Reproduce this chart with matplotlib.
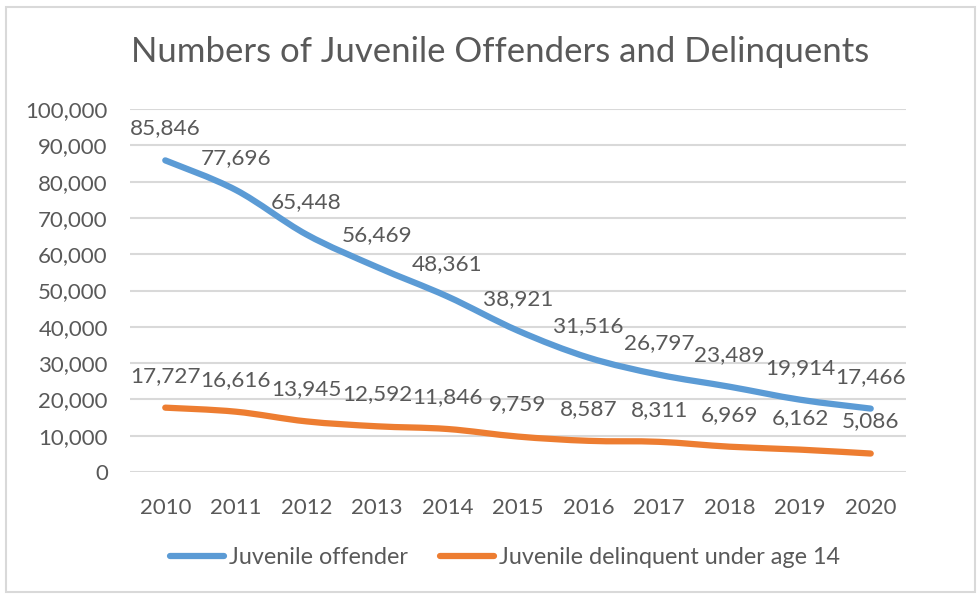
import matplotlib.pyplot as plt
from matplotlib.path import Path
from matplotlib.patches import PathPatch, Rectangle
from matplotlib.lines import Line2D
from matplotlib.ticker import FuncFormatter

years = ['2010', '2011', '2012', '2013', '2014', '2015', '2016', '2017', '2018', '2019', '2020']
offender = [85846, 77696, 65448, 56469, 48361, 38921, 31516, 26797, 23489, 19914, 17466]
delinquent = [17727, 16616, 13945, 12592, 11846, 9759, 8587, 8311, 6969, 6162, 5086]
series_names = ['Juvenile offender', 'Juvenile delinquent under age 14']

BLUE = '#5B9BD5'
ORANGE = '#ED7D31'
TXT = '#595959'
GRID = '#D9D9D9'

plt.rcParams['font.family'] = ['Lato', 'DejaVu Sans']


def smooth_path(xs, ys):
    # excel-like smoothed line: catmull-rom as cubic bezier segments
    pts = list(zip(xs, ys))
    verts = [pts[0]]
    codes = [Path.MOVETO]
    n = len(pts)
    for i in range(n - 1):
        p0 = pts[max(i - 1, 0)]
        p1 = pts[i]
        p2 = pts[i + 1]
        p3 = pts[min(i + 2, n - 1)]
        c1 = (p1[0] + (p2[0] - p0[0]) / 6, p1[1] + (p2[1] - p0[1]) / 6)
        c2 = (p2[0] - (p3[0] - p1[0]) / 6, p2[1] - (p3[1] - p1[1]) / 6)
        verts += [c1, c2, p2]
        codes += [Path.CURVE4] * 3
    return Path(verts, codes)


fig = plt.figure(figsize=(9.79, 5.96), dpi=100)
fig.patches.append(Rectangle((6 / 979, 4 / 596), 969 / 979, 585 / 596, transform=fig.transFigure,
                             fill=False, edgecolor=GRID, linewidth=1.5))
ax = fig.add_axes([130 / 979, 1 - 472 / 596, 776 / 979, 363 / 596])

x = list(range(len(years)))
for vals, col in [(offender, BLUE), (delinquent, ORANGE)]:
    ax.add_patch(PathPatch(smooth_path(x, vals), fill=False, edgecolor=col, linewidth=4.5,
                           capstyle='round', joinstyle='round', zorder=3))
    for xi, v in zip(x, vals):
        ax.annotate(f'{v:,}', (xi, v), xytext=(0, 32), textcoords='offset pixels',
                    ha='center', va='center', fontsize=16.2, color=TXT, zorder=4)

ax.set_xlim(-0.5, len(years) - 0.5)
ax.set_ylim(0, 100000)
ax.set_xticks(x)
ax.set_xticklabels(years)
ax.set_yticks(range(0, 100001, 10000))
ax.yaxis.set_major_formatter(FuncFormatter(lambda v, p: f'{int(v):,}'))
ax.grid(axis='y', color=GRID, linewidth=1.5)
ax.set_axisbelow(True)
for s in ax.spines.values():
    s.set_visible(False)
ax.tick_params(length=0, labelsize=16, labelcolor=TXT)
ax.tick_params(axis='x', pad=19)
ax.tick_params(axis='y', pad=16)

fig.text(500 / 979, 1 - 52 / 596, 'Numbers of Juvenile Offenders and Delinquents',
         ha='center', va='center', fontsize=25, color=TXT)

handles = [Line2D([], [], color=BLUE, linewidth=4.5, solid_capstyle='round'),
           Line2D([], [], color=ORANGE, linewidth=4.5, solid_capstyle='round')]
fig.legend(handles, series_names, loc='center', bbox_to_anchor=(505 / 979, 1 - 558 / 596),
           ncol=2, frameon=False, fontsize=16.8, labelcolor=TXT, handlelength=2.3,
           handletextpad=0.2, columnspacing=1.4)

fig.savefig('out.png', dpi=100)
